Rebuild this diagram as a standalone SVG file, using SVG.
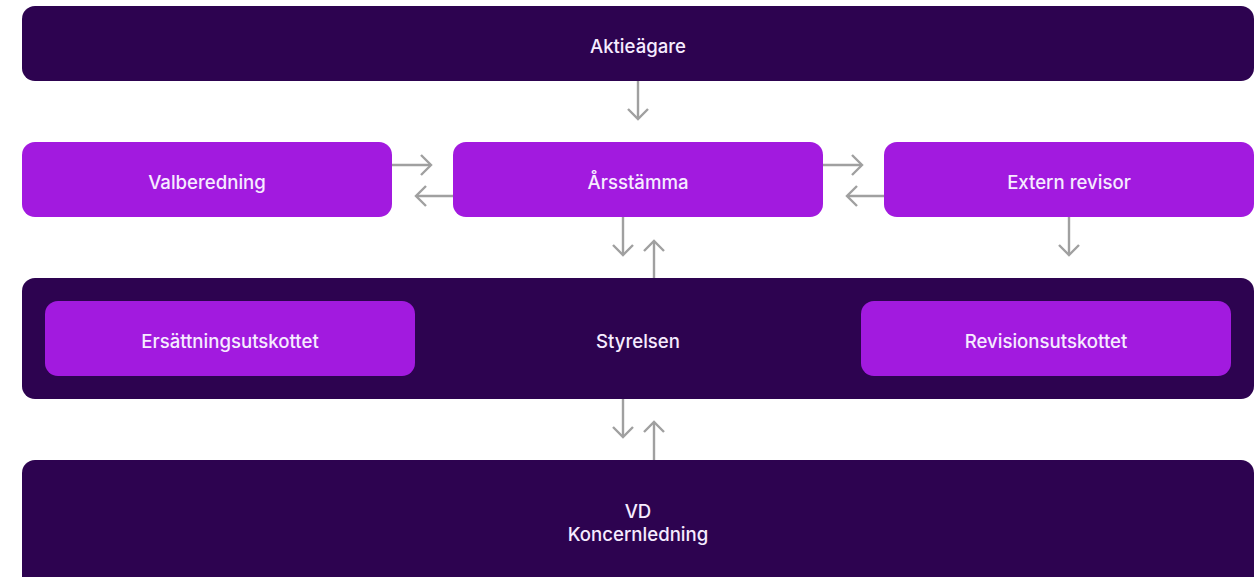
<svg xmlns="http://www.w3.org/2000/svg" width="1254" height="577" viewBox="0 0 1254 577">
<style>
.dark{fill:#2d0350}
.pur{fill:#a21adf}
.t{font-family:Inter,"Noto Sans","Liberation Sans",sans-serif;font-size:18.6px;font-weight:500;fill:#f6ecff;text-anchor:middle;dominant-baseline:central}
.c{stroke:#a0a0a0;stroke-width:2.4;fill:none}
</style>
<defs>
<marker id="ah" markerUnits="userSpaceOnUse" markerWidth="24" markerHeight="24" viewBox="-12 -12 24 24" refX="0" refY="0" orient="auto">
<path d="M-10,-10 L0,0 L-10,10" fill="none" stroke="#a0a0a0" stroke-width="2.4"/>
</marker>
</defs>
<rect width="1254" height="577" fill="#ffffff"/>
<g id="aktieagare"><rect class="dark" x="22" y="6" width="1232" height="75" rx="13"/><text class="t" x="638" y="46">Aktieägare</text></g>
<g id="valberedning"><rect class="pur" x="22" y="142" width="370" height="75" rx="13"/><text class="t" x="207" y="182">Valberedning</text></g>
<g id="arsstamma"><rect class="pur" x="453" y="142" width="370" height="75" rx="13"/><text class="t" x="638" y="182">Årsstämma</text></g>
<g id="extern"><rect class="pur" x="884" y="142" width="370" height="75" rx="13"/><text class="t" x="1069" y="182">Extern revisor</text></g>
<g id="styrelsen"><rect class="dark" x="22" y="278" width="1232" height="121" rx="13"/><text class="t" x="638" y="341">Styrelsen</text></g>
<g id="ersattning"><rect class="pur" x="45" y="301" width="370" height="75" rx="13"/><text class="t" x="230" y="341">Ersättningsutskottet</text></g>
<g id="revision"><rect class="pur" x="861" y="301" width="370" height="75" rx="13"/><text class="t" x="1046" y="341">Revisionsutskottet</text></g>
<g id="vd"><rect class="dark" x="22" y="460" width="1232" height="140" rx="13"/><text class="t" x="638" y="511">VD</text><text class="t" x="638" y="534">Koncernledning</text></g>
<g id="connectors">
<line class="c" x1="638" y1="81" x2="638" y2="119" marker-end="url(#ah)"/>
<line class="c" x1="392" y1="165" x2="431" y2="165" marker-end="url(#ah)"/>
<line class="c" x1="453" y1="196" x2="416" y2="196" marker-end="url(#ah)"/>
<line class="c" x1="823" y1="165" x2="862" y2="165" marker-end="url(#ah)"/>
<line class="c" x1="884" y1="196" x2="847" y2="196" marker-end="url(#ah)"/>
<line class="c" x1="623" y1="217" x2="623" y2="255" marker-end="url(#ah)"/>
<line class="c" x1="654" y1="278" x2="654" y2="241" marker-end="url(#ah)"/>
<line class="c" x1="1069" y1="217" x2="1069" y2="255" marker-end="url(#ah)"/>
<line class="c" x1="623" y1="399" x2="623" y2="437" marker-end="url(#ah)"/>
<line class="c" x1="654" y1="460" x2="654" y2="422" marker-end="url(#ah)"/>
</g>
</svg>
